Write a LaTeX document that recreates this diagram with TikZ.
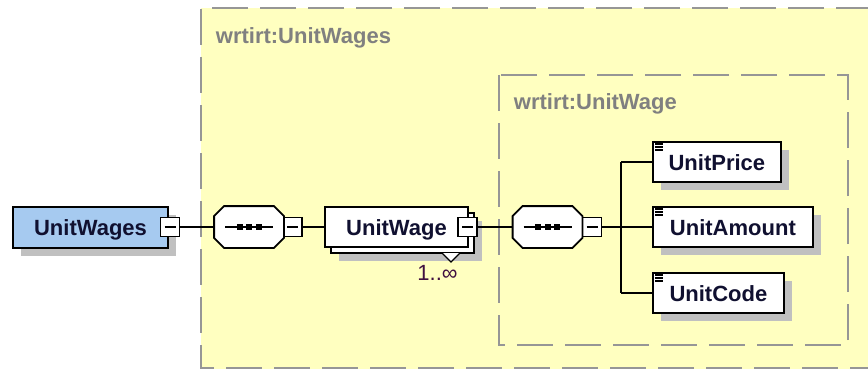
\documentclass[tikz,border=0pt]{standalone}
\usepackage{fontspec}
\setsansfont{Liberation Sans}
\usetikzlibrary{shadows}
\definecolor{areayellow}{RGB}{255,255,192}
\definecolor{framegray}{RGB}{150,150,150}
\definecolor{labelgray}{RGB}{128,128,128}
\definecolor{shadowgray}{RGB}{192,192,192}
\definecolor{elemblue}{RGB}{166,202,240}
\definecolor{elemtext}{RGB}{16,16,48}
\definecolor{occurs}{RGB}{64,16,64}
\begin{document}
\begin{tikzpicture}[x=1pt, y=-1pt, line width=1.8pt,
  box node/.style={rectangle, draw, fill=white, text=elemtext, minimum height=40pt, inner sep=0pt, text height=16pt, text depth=0pt},
  main node/.style={box node, drop shadow={shadow xshift=8pt, shadow yshift=-8pt, fill=shadowgray, opacity=1}},
  seq node/.style={rectangle, minimum width=68pt, minimum height=40pt, inner sep=0pt},
  fold node/.style={draw, fill=white, minimum size=19pt, inner sep=0pt, line width=1.3pt, path picture={\draw[line width=1.3pt] ([xshift=4pt]path picture bounding box.west) -- ([xshift=-4pt]path picture bounding box.east);}},
  frame/.style={draw=framegray, line width=2pt, dash pattern=on 36pt off 12pt},
  area label/.style={text=labelgray, anchor=base west, inner sep=0pt}]
  \tikzstyle{every node}=[font=\sffamily\bfseries\fontsize{22}{26}\selectfont]

  \useasboundingbox (0,0) rectangle (868,369);

  % type areas
  \fill[areayellow] (201,8) rectangle (872,372);
  \draw[frame] (872,8) -- (201,8) -- (201,368) -- (872,368);
  \node[area label] (a1) at (215,44) {wrtirt:UnitWages};
  \draw[frame] (499,75) rectangle (848,345);
  \node[area label] (a2) at (513,110) {wrtirt:UnitWage};

  % elements
  \node[main node, fill=elemblue, minimum width=155pt, minimum height=41pt] (1) at (90.5,227.5) {UnitWages};
  \node[fold node] (1m) at (170,227) {};
  \node[seq node] (2) at (249,227) {};
  \node[fold node] (2m) at (292.5,227) {};
  \node[main node, minimum width=143pt] (3b) at (402.5,233) {};
  \node[box node, minimum width=143pt] (3) at (396.5,227) {UnitWage};
  \node[fold node] (3m) at (467.5,227) {};
  \draw[line width=1.2pt, fill=white] (442,253) -- (451,262) -- (460,253);
  \node[font=\sffamily\fontsize{22}{26}\selectfont, text=occurs, anchor=base, inner sep=0pt] (3o) at (437.5,280) {1..∞};
  \node[seq node] (4) at (547.5,227) {};
  \node[fold node] (4m) at (592,227) {};

  \node[main node, minimum width=128pt, anchor=west] (5) at (652,162) {UnitPrice};
  \node[main node, minimum width=160pt, anchor=west] (6) at (652,227) {UnitAmount};
  \node[main node, minimum width=131pt, anchor=west] (7) at (652,293) {UnitCode};

  % sequence compositors
  \foreach \c in {2,4} {
    \fill[shadowgray, shift={(8,8)}] ([xshift=10pt]\c.north west) -- ([xshift=-10pt]\c.north east)
      -- ([yshift=-10pt]\c.north east) -- ([yshift=10pt]\c.south east) -- ([xshift=-10pt]\c.south east)
      -- ([xshift=10pt]\c.south west) -- ([yshift=10pt]\c.south west) -- ([yshift=-10pt]\c.north west) -- cycle;
    \draw[fill=white] ([xshift=10pt]\c.north west) -- ([xshift=-10pt]\c.north east)
      -- ([yshift=-10pt]\c.north east) -- ([yshift=10pt]\c.south east) -- ([xshift=-10pt]\c.south east)
      -- ([xshift=10pt]\c.south west) -- ([yshift=10pt]\c.south west) -- ([yshift=-10pt]\c.north west) -- cycle;
    \draw ([xshift=-24pt]\c.center) -- ([xshift=24pt]\c.center);
    \foreach \d in {-9.5,0,9.5}
      \fill ([xshift=\d pt]\c.center) +(-3,-3) rectangle +(3,3);
  }
  % simple type marks
  \foreach \c in {5,6,7}
    \foreach \d in {3,6,9}
      \draw[line width=1.3pt] ([xshift=3pt,yshift=-\d pt]\c.north west) -- +(8,0);

  % connectors
  \coordinate (b) at (621,227);
  \coordinate (b5) at (b |- 5.west);
  \coordinate (b7) at (b |- 7.west);
  \path (1m) edge (2)
        (2m) edge (3)
        (3m) edge (4)
        (4m) edge (b)
        (b5) edge (b7)
        (b5) edge (5.west)
        (b) edge (6.west)
        (b7) edge (7.west);
\end{tikzpicture}
\end{document}
